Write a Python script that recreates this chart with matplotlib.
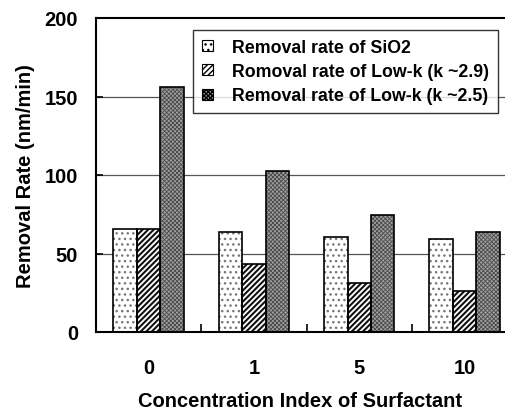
import matplotlib
matplotlib.use("Agg")
import matplotlib.pyplot as plt
from matplotlib.patches import Patch
import numpy as np

categories = ["0", "1", "5", "10"]
sio2 = [65.5, 63.5, 60.5, 59.0]
lowk_29 = [65.5, 43.0, 31.0, 26.0]
lowk_25 = [156.0, 102.5, 74.5, 64.0]
series_labels = ["Removal rate of SiO2",
                 "Romoval rate of Low-k (k ~2.9)",
                 "Removal rate of Low-k (k ~2.5)"]
yticks = [0, 50, 100, 150, 200]

plt.rcParams['font.family'] = ['Liberation Sans', 'DejaVu Sans']
plt.rcParams['font.weight'] = 'bold'

W, H = 505, 410
fig = plt.figure(figsize=(W / 100, H / 100), dpi=100)
left, right, top, bottom = 96, 505, 19, 333
ax = fig.add_axes([left / W, 1 - bottom / H, (right - left) / W, (bottom - top) / H])

x = np.arange(len(categories))
bw = 0.223
styles = [
    dict(face='white', hatchcol='#777777', hatch='...', hlw=1.0),
    dict(face='white', hatchcol='#111111', hatch='/' * 6, hlw=1.5),
    dict(face='#a0a0a0', hatchcol='#4a4a4a', hatch='x' * 8, hlw=0.6),
]
data = [sio2, lowk_29, lowk_25]
handles = []
for i, (vals, st, lab) in enumerate(zip(data, styles, series_labels)):
    pos = x + (i - 1) * bw
    with plt.rc_context({'hatch.linewidth': st['hlw']}):
        bars = ax.bar(pos, vals, bw, color=st['face'], edgecolor=st['hatchcol'],
                      hatch=st['hatch'], linewidth=0, zorder=2)
        for b in bars:
            if hasattr(b, 'set_hatch_linewidth'):
                b.set_hatch_linewidth(st['hlw'])
        p = Patch(facecolor=st['face'], edgecolor='black', hatch=st['hatch'],
                  linewidth=0.8, label=lab)
        if hasattr(p, 'set_hatch_linewidth'):
            p.set_hatch_linewidth(st['hlw'])
        handles.append(p)
    ax.bar(pos, vals, bw, fill=False, edgecolor='black', linewidth=1.2, zorder=3)

ax.set_xlim(-0.5, -0.5 + (right - left) / 105.3)
ax.set_ylim(0, 200)
ax.set_yticks(yticks)
ax.set_yticklabels([str(t) for t in yticks], fontsize=14.5, fontweight='bold')
ax.set_xticks(x)
ax.set_xticklabels(categories, fontsize=14.5, fontweight='bold')
ax.tick_params(axis='x', which='major', length=0, pad=19)
ax.set_xticks(x[:-1] + 0.5, minor=True)
ax.tick_params(axis='x', which='minor', direction='in', length=6, width=1.2)
ax.tick_params(axis='y', direction='in', length=5, width=1.2, pad=13)

for y in [50, 100, 150]:
    ax.axhline(y, color='#555555', linewidth=0.9, zorder=1)

ax.spines['right'].set_visible(False)
for s in ['left', 'bottom', 'top']:
    ax.spines[s].set_linewidth(1.5)

ax.set_ylabel("Removal Rate (nm/min)", fontsize=14.5, fontweight='bold', labelpad=7)
ax.set_xlabel("Concentration Index of Surfactant", fontsize=14.5, fontweight='bold', labelpad=10)

leg = ax.legend(handles=handles, loc='upper right', bbox_to_anchor=(0.983, 0.963),
                prop={'weight': 'bold', 'size': 12.8},
                frameon=True, fancybox=False, handlelength=0.6, handleheight=0.6,
                handletextpad=1.1, borderpad=0.5, labelspacing=0.42, borderaxespad=0)
leg.get_frame().set_edgecolor('black')
leg.get_frame().set_linewidth(1.0)
leg.set_zorder(5)

fig.savefig("out.png", dpi=100)
